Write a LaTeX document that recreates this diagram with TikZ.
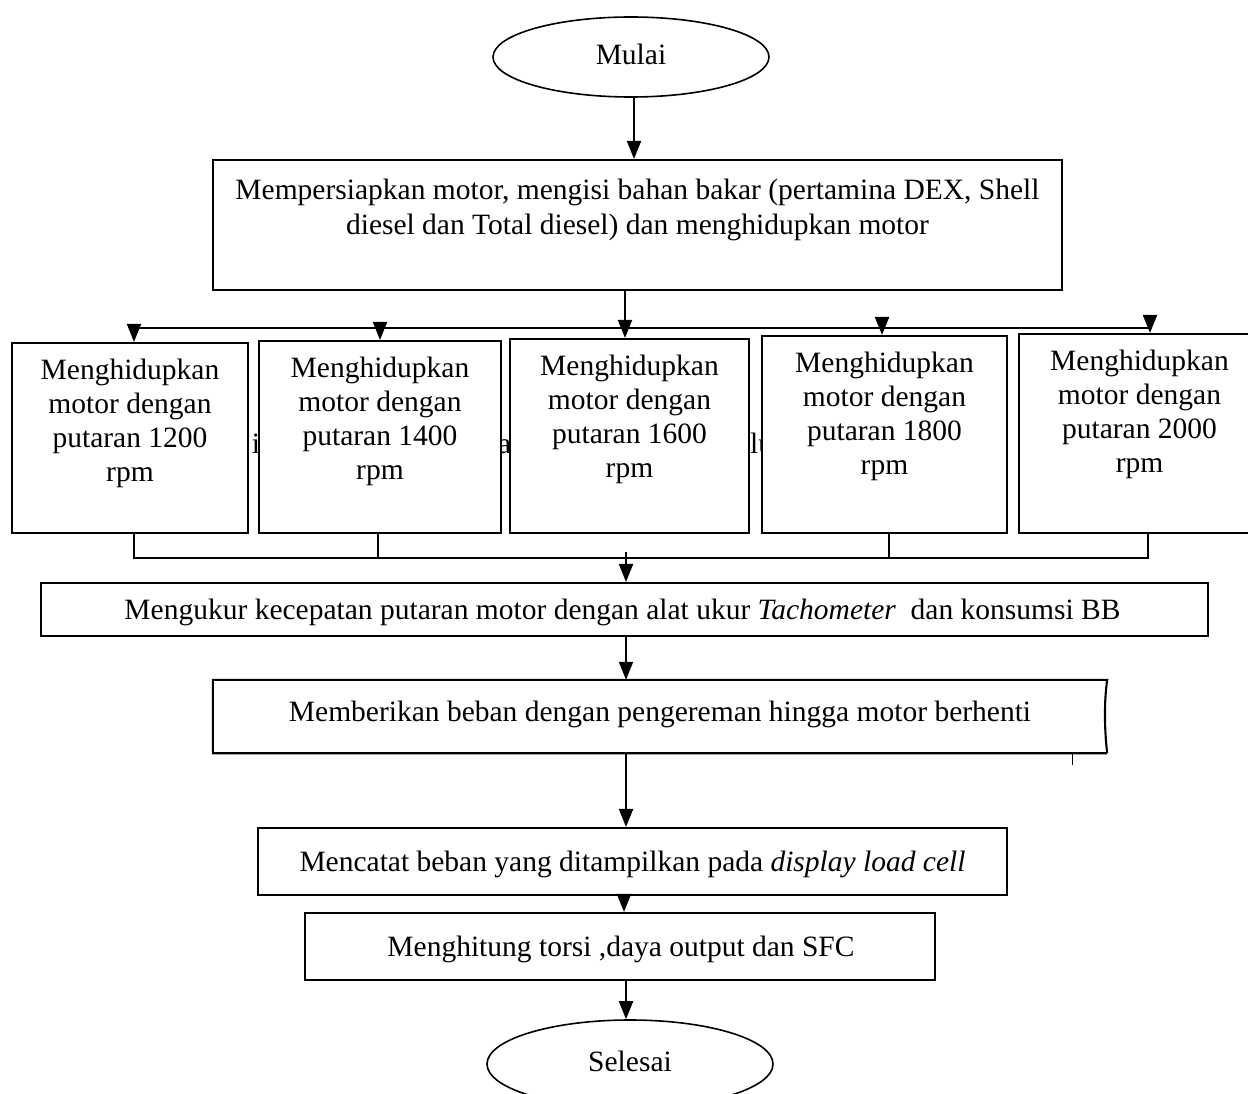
\documentclass[tikz,border=0pt]{standalone}
\usepackage{fontspec}
\setmainfont{Liberation Serif}
\usetikzlibrary{arrows.meta,shapes.geometric}
\begin{document}
\begin{tikzpicture}[x=1pt,y=-1pt,
  box/.style={draw,line width=2.1pt,fill=white,inner sep=0pt},
  lbl/.style={align=center,inner sep=0pt,font=\fontsize{29.5}{34}\selectfont},
  conn/.style={line width=2pt},
  thinconn/.style={line width=1.5pt},
  arr/.style={line width=2pt,-{Triangle[width=14pt,length=18pt]}},
  oval/.style={draw,ellipse,line width=1.6pt,inner sep=0pt}]
\useasboundingbox (0,0) rectangle (1248,1094);

% hidden text fragments (behind the rpm boxes)
\node[lbl,anchor=base] (frag1) at (256,453) {i};
\node[lbl,anchor=base west] (frag2) at (498,453) {a};
\node[lbl,anchor=base west] (frag3) at (750,453) {lu};

% start
\node[oval,minimum width=276pt,minimum height=80pt] (start) at (631,57) {};
\node[lbl] (starttxt) at (631,54) {Mulai};

% preparation box
\node[box,minimum width=849pt,minimum height=130pt] (prep) at (637.5,225) {};
\node[lbl,anchor=north,font=\fontsize{29.5}{35}\selectfont] (preptxt) at (637.5,179) {Mempersiapkan motor, mengisi bahan bakar (pertamina DEX, Shell\\diesel dan Total diesel) dan menghidupkan motor};

% rpm boxes
\node[box,minimum width=236pt,minimum height=190pt] (r1) at (130,438) {};
\node[box,minimum width=242pt,minimum height=192pt] (r2) at (380,437) {};
\node[box,minimum width=239pt,minimum height=194pt] (r3) at (629.5,436) {};
\node[box,minimum width=245pt,minimum height=197pt] (r4) at (884.5,434.5) {};
\node[box,minimum width=241pt,minimum height=199pt] (r5) at (1139.5,433.5) {};
\node[lbl,anchor=north] (t1) at ([yshift=-17pt]r1.north) {Menghidupkan\\motor dengan\\putaran 1200\\rpm};
\node[lbl,anchor=north] (t2) at ([yshift=-17pt]r2.north) {Menghidupkan\\motor dengan\\putaran 1400\\rpm};
\node[lbl,anchor=north] (t3) at ([yshift=-17pt]r3.north) {Menghidupkan\\motor dengan\\putaran 1600\\rpm};
\node[lbl,anchor=north] (t4) at ([yshift=-17pt]r4.north) {Menghidupkan\\motor dengan\\putaran 1800\\rpm};
\node[lbl,anchor=north] (t5) at ([yshift=-17pt]r5.north) {Menghidupkan\\motor dengan\\putaran 2000\\rpm};

% measuring box
\node[box,minimum width=1167pt,minimum height=53pt] (meas) at (624.5,609.5) {};
\node[lbl] (meastxt) at (622.5,612) {Mengukur kecepatan putaran motor dengan alat ukur \textit{Tachometer}\ \ dan konsumsi BB};

% load box (wavy right edge)
\node[inner sep=0pt,minimum width=894pt,minimum height=73pt] (load) at (660,716.5) {};
\draw[line width=2.1pt] (load.south east) -- (load.south west) -- (load.north west) -- (load.north east)
  .. controls +(-3,20) and +(-3,-25) .. (load.south east);
\node[lbl] (loadtxt) at (660,714) {Memberikan beban dengan pengereman hingga motor berhenti};
\coordinate (tick) at (1072,765);
\draw[line width=1pt] (tick |- load.south) -- (tick);

% record box
\node[box,minimum width=749pt,minimum height=67pt] (rec) at (632.5,861.5) {};
\node[lbl] (rectxt) at (632.5,864.5) {Mencatat beban yang ditampilkan pada \textit{display load cell}};

% compute box
\node[box,minimum width=630pt,minimum height=67pt] (calc) at (620,946.5) {};
\node[lbl] (calctxt) at (621,949.5) {Menghitung torsi ,daya output dan SFC};

% end
\node[oval,minimum width=286pt,minimum height=88pt] (fin) at (630,1064) {};
\node[lbl] (fintxt) at (630,1061) {Selesai};

% connectors: top
\coordinate (xs) at (634,0);
\draw[arr] (xs |- start.south) -- (xs |- prep.north);
\coordinate (jA) at (625,328);
\coordinate (barL) at (134,328);
\coordinate (b2) at (380,328);
\coordinate (b4) at (882,328);
\coordinate (barR) at (1150,328);
\draw[conn] (jA |- prep.south) -- (jA);
\draw[conn] (barL) -- (barR);
\draw[arr] (barL) -- (barL |- r1.north);
\draw[arr] (b2) -- (b2 |- r2.north);
\draw[arr] (jA) -- (jA |- r3.north);
\draw[arr] (b4) -- (b4 |- r4.north);
\draw[arr] (barR) -- (barR |- r5.north);

% connectors: merge
\coordinate (d1) at (134,558);
\coordinate (d2) at (378,558);
\coordinate (d4) at (889,558);
\coordinate (d5) at (1148,558);
\draw[thinconn] (d1 |- r1.south) -- (d1) -- (d5) -- (d5 |- r5.south);
\draw[thinconn] (d2 |- r2.south) -- (d2);
\draw[thinconn] (d4 |- r4.south) -- (d4);
\coordinate (jB) at (626,552);
\draw[arr] (jB) -- (jB |- meas.north);

% connectors: lower chain
\coordinate (xc) at (626,0);
\draw[arr] (xc |- meas.south) -- (xc |- load.north);
\draw[arr] (xc |- load.south) -- (xc |- rec.north);
\coordinate (xd) at (624,0);
\draw[arr] (xd |- rec.south) -- (xd |- calc.north);
\draw[arr] (xc |- calc.south) -- (xc |- fin.north);
\end{tikzpicture}
\end{document}
